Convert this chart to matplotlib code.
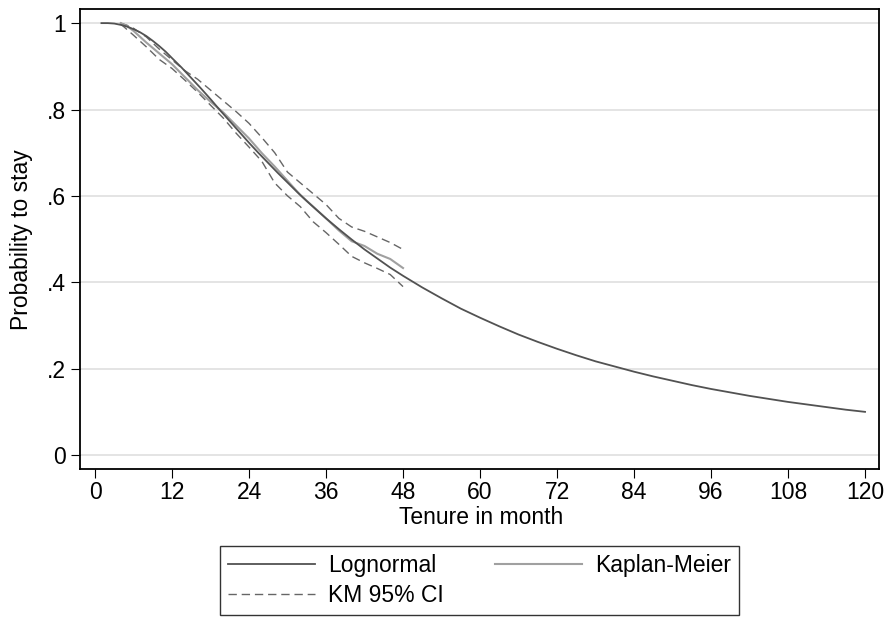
import matplotlib.pyplot as plt

# ── Data ───────────────────────────────────────────────────────────────────────

LN_MONTHS = [1, 2, 3, 4, 5, 6, 7, 8, 9, 10, 11, 12, 13.5, 15, 16.5, 18, 19.5,
             21, 22.5, 24, 25.5, 27, 28.5, 30, 31.5, 33, 34.5, 36, 38, 40, 42,
             44, 46, 48, 51, 54, 57, 60, 63, 66, 69, 72, 75, 78, 81, 84, 87,
             90, 93, 96, 99, 102, 105, 108, 111, 114, 117, 120]
LN_SURV = [1.000, 1.000, 0.999, 0.996, 0.992, 0.986, 0.979, 0.970, 0.959,
           0.947, 0.934, 0.919, 0.897, 0.873, 0.849, 0.824, 0.798, 0.773,
           0.748, 0.723, 0.699, 0.676, 0.653, 0.631, 0.609, 0.588, 0.568,
           0.548, 0.523, 0.499, 0.476, 0.455, 0.434, 0.415, 0.388, 0.363,
           0.339, 0.318, 0.298, 0.279, 0.262, 0.246, 0.231, 0.217, 0.205,
           0.193, 0.182, 0.172, 0.162, 0.153, 0.145, 0.137, 0.130, 0.123,
           0.117, 0.111, 0.105, 0.100]

KM_MONTHS = [4, 5, 6, 8, 10, 12, 14, 16, 18, 20, 22, 24, 26, 28, 30, 32, 34,
             36, 38, 40, 42, 44, 46, 48]
KM_SURV = [1.000, 0.993, 0.982, 0.955, 0.930, 0.905, 0.875, 0.845, 0.818,
           0.793, 0.763, 0.733, 0.699, 0.668, 0.635, 0.602, 0.575, 0.548,
           0.520, 0.495, 0.484, 0.466, 0.454, 0.433]
KM_UPPER = [1.000, 0.995, 0.988, 0.968, 0.940, 0.915, 0.890, 0.870, 0.845,
            0.820, 0.795, 0.768, 0.735, 0.700, 0.655, 0.630, 0.605, 0.580,
            0.548, 0.528, 0.518, 0.505, 0.492, 0.476]
KM_LOWER = [0.998, 0.985, 0.972, 0.945, 0.916, 0.895, 0.868, 0.840, 0.810,
            0.780, 0.745, 0.713, 0.680, 0.630, 0.600, 0.575, 0.540, 0.515,
            0.488, 0.460, 0.445, 0.432, 0.418, 0.390]

X_TICKS = list(range(0, 121, 12))
Y_TICKS = [0, 0.2, 0.4, 0.6, 0.8, 1.0]
Y_TICK_LABELS = ["0", ".2", ".4", ".6", ".8", "1"]

FONT_SIZE = 16.5

plt.rcParams["font.family"] = ["Liberation Sans", "DejaVu Sans"]


def main():
    fig = plt.figure(figsize=(8.88, 6.22), dpi=100)
    ax = fig.add_axes([80 / 888, 1 - 469.3 / 622, 798.7 / 888, 460 / 622])

    for y in Y_TICKS:
        ax.axhline(y, color="#e4e4e4", lw=1.4, zorder=0)

    ln_line, = ax.plot(LN_MONTHS, LN_SURV, color="#525252", lw=1.3, zorder=3,
                       label="Lognormal")
    km_line, = ax.plot(KM_MONTHS, KM_SURV, color="#a0a0a0", lw=1.5, zorder=2,
                       label="Kaplan-Meier")
    ci_line, = ax.plot(KM_MONTHS, KM_UPPER, color="#666666", lw=1.0,
                       dashes=(6, 3.5), zorder=1, label="KM 95% CI")
    ax.plot(KM_MONTHS, KM_LOWER, color="#666666", lw=1.0, dashes=(6, 3.5),
            zorder=1)

    ax.set_xlim(-2.34, 122.13)
    ax.set_ylim(-0.033, 1.032)
    ax.set_xticks(X_TICKS)
    ax.set_yticks(Y_TICKS)
    ax.set_yticklabels(Y_TICK_LABELS)
    ax.tick_params(axis="both", direction="out", length=6.4, width=0.8,
                   labelsize=FONT_SIZE, color="black")
    ax.tick_params(axis="x", pad=2)
    ax.tick_params(axis="y", pad=4)
    for spine in ax.spines.values():
        spine.set_linewidth(1.3)
        spine.set_color("black")

    fig.text(21.7 / 888, 1 - 239.3 / 622, "Probability to stay", rotation=90,
             ha="center", va="center", fontsize=FONT_SIZE)
    fig.text(481 / 888, 1 - 518 / 622, "Tenure in month",
             ha="center", va="center", fontsize=FONT_SIZE)

    leg = fig.legend(
        [ln_line, ci_line, km_line],
        ["Lognormal", "KM 95% CI", "Kaplan-Meier"],
        ncol=2,
        loc="upper center",
        bbox_to_anchor=(479.5 / 888, 1 - 546 / 622),
        fontsize=FONT_SIZE,
        frameon=True,
        fancybox=False,
        edgecolor="black",
        handlelength=3.8,
        handletextpad=0.6,
        columnspacing=2.2,
        labelspacing=0.3,
        borderpad=0.35,
        borderaxespad=0,
    )
    leg.get_frame().set_linewidth(1.0)

    fig.savefig("out.png", dpi=100, facecolor="white")


if __name__ == "__main__":
    main()
